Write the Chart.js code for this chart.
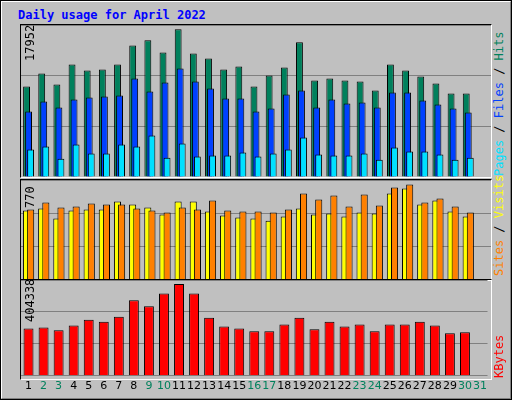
<!DOCTYPE html>
<html><head><meta charset="utf-8">
<script src="https://cdn.jsdelivr.net/npm/chart.js@4/dist/chart.umd.min.js"></script>
<style>
body{margin:0;width:512px;height:400px;overflow:hidden;background:#c0c0c0;font-family:"DejaVu Sans Mono",monospace}
#frame{position:absolute;left:0;top:0;width:508px;height:396px;border-top:2px solid #fff;border-left:2px solid #fff;border-right:2px solid #808080;border-bottom:2px solid #808080;outline:1px solid #000;outline-offset:-1px}
.panel{position:absolute;left:20px;width:470px;border-top:1px solid #000;border-left:1px solid #000;border-right:1px solid #fff;border-bottom:1px solid #fff}
.panel canvas{position:absolute;left:0;top:0}
.vl{position:absolute;transform:rotate(-90deg);transform-origin:left top;white-space:nowrap;font-size:12px}
#title{position:absolute;left:18px;top:8px;color:#0000ff;font-weight:bold;font-size:12px}
</style></head><body>
<div id="frame"></div>
<div id="title">Daily usage for April 2022</div>
<div class="panel" style="top:24px;height:152px"><canvas id="c1"></canvas></div>
<div class="panel" style="top:179px;height:100px"><canvas id="c2"></canvas></div>
<div class="panel" style="top:279px;height:99px"><canvas id="c3"></canvas></div>
<div class="vl" style="left:23px;top:61px;color:#000">17952</div>
<div class="vl" style="left:23px;top:208px;color:#000">770</div>
<div class="vl" style="left:23px;top:322px;color:#000">404338</div>
<div class="vl" style="left:492px;top:176px"><span style="color:#00e0ff">Pages</span> / <span style="color:#0040ff">Files</span> / <span style="color:#00805c">Hits</span></div>
<div class="vl" style="left:492px;top:276px"><span style="color:#ff8000">Sites</span> / <span style="color:#ffff00">Visits</span></div>
<div class="vl" style="left:492px;top:378px"><span style="color:#ff0000">KBytes</span></div>
<script>
const days=["1","2","3","4","5","6","7","8","9","10","11","12","13","14","15","16","17","18","19","20","21","22","23","24","25","26","27","28","29","30","31"];
const weekend=[2,3,9,10,16,17,23,24,30,31];
const hits=[10692,12231,10929,13296,12586,12705,13296,15545,16137,14717,17439,14598,14007,12705,13060,10692,11994,12941,15900,11402,11639,11402,11284,10219,13296,12586,11876,11047,9864,9864];
const files=[7733,8917,8207,9154,9390,9509,9627,11639,10100,11166,12823,11284,10456,9272,9272,7733,8088,9745,10219,8207,9154,8680,8798,8207,9982,9982,9035,8562,8088,7615];
const pages=[3235,3590,2170,3827,2762,2762,3827,3590,4892,2288,3946,2407,2525,2525,2880,2407,2762,3235,4656,2643,2525,2525,2762,2052,3472,2999,2999,2643,2052,2288];
const visits=[535,550,473,535,543,543,605,581,558,504,605,605,527,496,481,473,457,488,550,504,512,488,519,512,667,705,581,612,527,488];
const sites=[543,597,558,566,589,581,581,550,535,519,558,543,612,535,527,527,519,543,667,620,651,566,659,574,713,736,597,628,566,519];
const kbytes=[200067,204150,191901,212316,236814,228648,249063,318474,293976,347055,387885,347055,244980,208233,200067,187818,187818,216399,244980,195984,228648,208233,216399,187818,216399,216399,228648,212316,179652,183735];
const maxHits=17952,maxSites=770,maxKB=404338;

// draw datasets in index order so later (right-shifted) bars sit on top
const drawOrder={id:'drawOrder',beforeDatasetsDraw(chart){
  for(let i=0;i<chart.data.datasets.length;i++){chart.getDatasetMeta(i).controller.draw();}
  return false;}};

function make(id,w,h,datasets,max,showX,cat,barP){
  const cv=document.getElementById(id);cv.width=w;cv.height=h;cv.style.width=w+'px';cv.style.height=h+'px';
  return new Chart(cv,{type:'bar',plugins:[drawOrder],data:{labels:days,datasets:datasets.map(d=>Object.assign({borderColor:'#000',borderWidth:1,categoryPercentage:cat,barPercentage:barP},d))},
   options:{responsive:false,animation:false,devicePixelRatio:1,layout:{padding:0},
    plugins:{legend:{display:false},tooltip:{enabled:false}},
    scales:{
     x:{display:showX,grid:{display:false,drawTicks:false},border:{display:false},
        ticks:{padding:4,maxRotation:0,autoSkip:false,font:{family:'DejaVu Sans',size:11},
        color:c=>weekend.includes(c.index+1)?'#00805c':'#000'}},
     y:{display:true,min:0,max:max,border:{display:false},grid:{color:'#808080',drawTicks:false,lineWidth:1},
        ticks:{display:false,stepSize:max/3}}}}});
}
make('c1',470,152,[
 {data:hits,backgroundColor:'#00805c'},
 {data:files,backgroundColor:'#0040ff'},
 {data:pages,backgroundColor:'#00e0ff'}],maxHits,false,0.4,3.4);
make('c2',470,100,[
 {data:visits,backgroundColor:'#ffff00'},
 {data:sites,backgroundColor:'#ff8000'}],maxSites,false,0.55,1.7);
make('c3',470,117,[
 {data:kbytes,backgroundColor:'#ff0000'}],maxKB,true,0.66,1);
</script>
</body></html>
